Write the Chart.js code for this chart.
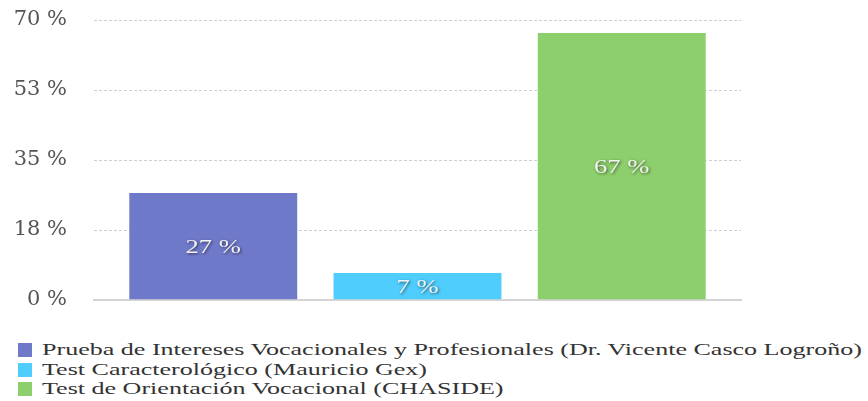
<!DOCTYPE html>
<html>
<head>
<meta charset="utf-8">
<script src="https://cdn.jsdelivr.net/npm/chart.js@4"></script>
<style>
  html, body { margin: 0; padding: 0; background: #fff; }
  #wrap { position: relative; width: 868px; height: 401px; overflow: hidden; }
  #c { position: absolute; left: 0; top: 0; }
  #legend { position: absolute; left: 18px; top: 340px; font-family: "Liberation Serif", serif; font-size: 17px; color: #333; }
  .item { display: flex; align-items: center; height: 19.7px; white-space: nowrap; }
  .box { width: 14px; height: 14px; margin-right: 10px; flex: none; }
  .txt { display: inline-block; transform-origin: 0 50%; }
</style>
</head>
<body>
<div id="wrap">
  <canvas id="c" width="868" height="330" style="width:868px;height:330px"></canvas>
  <div id="legend"></div>
</div>
<script>
const categories = [''];
const seriesNames = [
  'Prueba de Intereses Vocacionales y Profesionales (Dr. Vicente Casco Logroño)',
  'Test Caracterológico (Mauricio Gex)',
  'Test de Orientación Vocacional (CHASIDE)'
];
const seriesValues = [27, 7, 67];
const seriesColors = ['#6f79c9', '#4fcdfd', '#8dcf6c'];
const yTicks = [0, 17.5, 35, 52.5, 70];

const TICK_FONT = '"DejaVu Serif", serif';
const STRETCH = 1.4;

const valueLabels = {
  id: 'valueLabels',
  afterDatasetsDraw(chart) {
    const ctx = chart.ctx;
    chart.data.datasets.forEach((ds, i) => {
      const meta = chart.getDatasetMeta(i);
      meta.data.forEach((bar, j) => {
        const v = ds.data[j];
        const y = (bar.y + bar.base) / 2;
        ctx.save();
        ctx.translate(bar.x, y + 2);
        ctx.scale(STRETCH, 1);
        ctx.font = '19px "Liberation Serif", serif';
        ctx.textAlign = 'center';
        ctx.textBaseline = 'middle';
        ctx.shadowColor = 'rgba(0,0,0,0.6)';
        ctx.shadowBlur = 3;
        ctx.shadowOffsetX = 1;
        ctx.shadowOffsetY = 1;
        ctx.fillStyle = '#f2f2f2';
        ctx.fillText(v + ' %', 0, 0);
        ctx.restore();
      });
    });
  }
};

new Chart(document.getElementById('c'), {
  type: 'bar',
  data: {
    labels: categories,
    datasets: seriesNames.map((name, i) => ({
      label: name,
      data: [seriesValues[i]],
      backgroundColor: seriesColors[i],
      borderColor: 'rgba(255,255,255,0.35)',
      borderWidth: 1,
      barPercentage: 0.832,
      categoryPercentage: 0.947
    }))
  },
  options: {
    responsive: false,
    animation: false,
    devicePixelRatio: 1,
    layout: { padding: { top: 20, right: 127, bottom: 30, left: 0 } },
    plugins: { legend: { display: false }, tooltip: { enabled: false } },
    scales: {
      x: {
        ticks: { display: false },
        grid: { display: false, drawTicks: false },
        border: { display: true, color: '#d4d4d4', width: 2 },
        afterFit(s) { s.height = 0; s.paddingLeft = 0; s.paddingRight = 0; }
      },
      y: {
        min: yTicks[0],
        max: yTicks[yTicks.length - 1],
        afterBuildTicks(s) { s.ticks = yTicks.map(v => ({ value: v })); },
        ticks: {
          padding: 27,
          color: '#555',
          font: { family: TICK_FONT, size: 21 },
          callback: v => Math.round(v) + ' %'
        },
        grid: { color: '#cfcfcf', drawTicks: false, lineWidth: 1 },
        border: { display: false, dash: [3, 2] },
        afterFit(s) { s.width = 94; s.paddingTop = 0; s.paddingBottom = 0; }
      }
    }
  },
  plugins: [valueLabels]
});

const legend = document.getElementById('legend');
const spans = [];
seriesNames.forEach((name, i) => {
  const row = document.createElement('div');
  row.className = 'item';
  const box = document.createElement('span');
  box.className = 'box';
  box.style.background = seriesColors[i];
  const txt = document.createElement('span');
  txt.className = 'txt';
  txt.textContent = name;
  row.appendChild(box);
  row.appendChild(txt);
  legend.appendChild(row);
  spans.push(txt);
});
// stretch horizontally so that the first line ends where the reference's does
const w0 = spans[0].getBoundingClientRect().width;
const k = 820 / w0;
spans.forEach(s => { s.style.transform = 'scaleX(' + k + ')'; });
</script>
</body>
</html>
